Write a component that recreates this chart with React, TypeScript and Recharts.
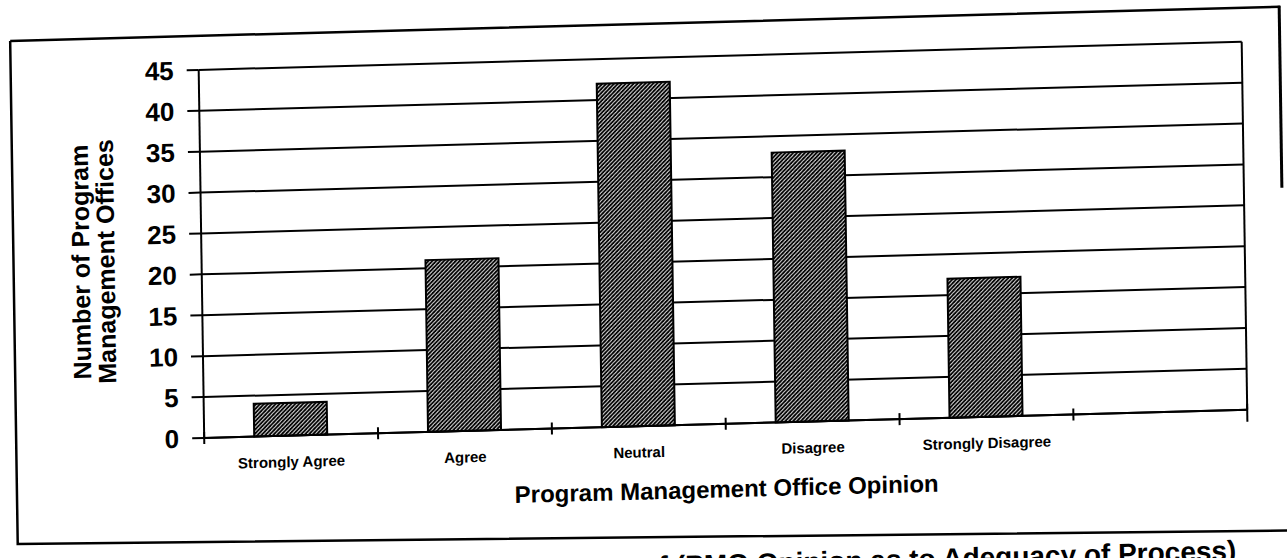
import React from 'react';
import { BarChart, Bar, XAxis, YAxis, CartesianGrid } from 'recharts';

// survey answers, last slot is an empty category on the axis
const categories = ['Strongly Agree', 'Agree', 'Neutral', 'Disagree', 'Strongly Disagree', ''];
const officeCounts = [4, 21, 42, 33, 17, null];
const yTicks = [0, 5, 10, 15, 20, 25, 30, 35, 40, 45];

const yAxisTitle = ['Number of Program', 'Management Offices'];
const xAxisTitle = 'Program Management Office Opinion';
const caption = 'of (PMO Opinion as to Adequacy of Process)';

const data = categories.map((opinion, i) => ({ opinion, offices: officeCounts[i] }));

const W = 1287;
const H = 600;
const FONT = '"Liberation Sans", Arial, Helvetica, sans-serif';
const PLOT = { left: 202, right: 1245, top: 58, bottom: 426 };
const X_AXIS_H = 50;
const BAND = (PLOT.right - PLOT.left) / categories.length;

function OpinionTick(props: any) {
  const { x, y, payload, index } = props;
  const half = BAND / 2;
  const last = index === categories.length - 1;
  return (
    <g>
      <line x1={x - half} x2={x - half} y1={y - 6} y2={y + 6} stroke="#000" strokeWidth={2} />
      {last && <line x1={x + half} x2={x + half} y1={y - 6} y2={y + 12} stroke="#000" strokeWidth={2} />}
      <text
        x={x}
        y={y + 26}
        textAnchor="middle"
        dominantBaseline="central"
        fontSize={15}
        fontWeight="bold"
        fontFamily={FONT}
        fill="#000"
      >
        {payload.value}
      </text>
    </g>
  );
}

export default function App() {
  return (
    <div style={{ position: 'fixed', inset: 0, overflow: 'hidden', background: '#fff' }}>
      {/* scanned page is slightly skewed */}
      <div
        style={{
          position: 'absolute',
          left: 0,
          top: 0,
          width: W,
          height: H,
          transformOrigin: '643px 279px',
          transform: 'matrix(1, -0.027, 0.015, 1, 0, 0)',
        }}
      >
        <BarChart
          width={W}
          height={H}
          data={data}
          margin={{ top: PLOT.top, right: W - PLOT.right, left: 0, bottom: H - PLOT.bottom - X_AXIS_H }}
        >
          <CartesianGrid
            stroke="#000"
            strokeWidth={2}
            verticalCoordinatesGenerator={({ offset }: any) => [offset.left + offset.width]}
          />
          <XAxis
            dataKey="opinion"
            height={X_AXIS_H}
            interval={0}
            tickSize={0}
            tickMargin={0}
            tickLine={false}
            axisLine={{ stroke: '#000', strokeWidth: 2 }}
            tick={<OpinionTick />}
          />
          <YAxis
            domain={[0, 45]}
            ticks={yTicks}
            interval={0}
            width={PLOT.left}
            tickSize={12}
            tickMargin={13}
            axisLine={{ stroke: '#000', strokeWidth: 2 }}
            tickLine={{ stroke: '#000', strokeWidth: 2 }}
            tick={{ fill: '#000', fontSize: 26, fontWeight: 'bold', fontFamily: FONT }}
          />
          <Bar
            dataKey="offices"
            fill="url(#stipple)"
            stroke="#000"
            strokeWidth={2}
            barSize={73}
            isAnimationActive={false}
          />
        </BarChart>

        <svg
          width={W}
          height={H}
          style={{ position: 'absolute', left: 0, top: 0, pointerEvents: 'none' }}
          fontFamily={FONT}
        >
          <defs>
            <pattern id="stipple" width="4" height="4" patternUnits="userSpaceOnUse">
              <rect width="4" height="4" fill="#fff" />
              <path d="M-1,1 l2,-2 M0,4 l4,-4 M3,5 l2,-2" stroke="#000" strokeWidth="1.9" />
            </pattern>
          </defs>

          {/* figure frame */}
          <path
            d="M14,24 H1284 M14,24 V527 L1290,548"
            fill="none"
            stroke="#000"
            strokeWidth={2.5}
          />
          <path d="M1283,23 V205" fill="none" stroke="#000" strokeWidth={3} />

          {yAxisTitle.map((line, i) => (
            <text
              key={line}
              transform={`translate(${81 + i * 25},247) rotate(-90)`}
              textAnchor="middle"
              dominantBaseline="central"
              fontSize={25}
              fontWeight="bold"
              fill="#000"
            >
              {line}
            </text>
          ))}

          <text
            x={(PLOT.left + PLOT.right) / 2}
            y={491}
            textAnchor="middle"
            dominantBaseline="central"
            fontSize={24}
            fontWeight="bold"
            fill="#000"
          >
            {xAxisTitle}
          </text>

          <text x={1232} y={576} textAnchor="end" fontSize={28} fontWeight="bold" fill="#000">
            {caption}
          </text>
        </svg>
      </div>
    </div>
  );
}
